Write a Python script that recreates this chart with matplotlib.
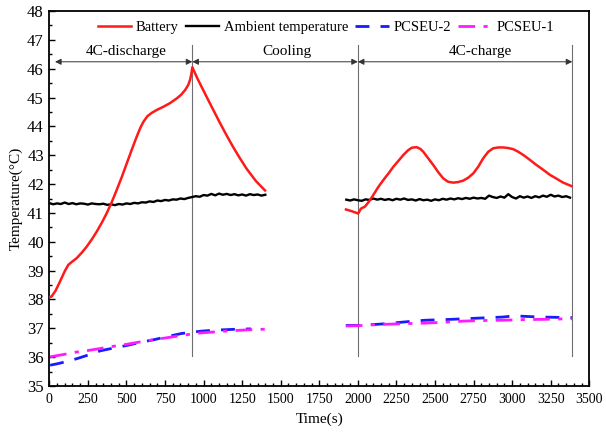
import numpy as np
import matplotlib.pyplot as plt
import matplotlib as mpl
from matplotlib.ticker import MultipleLocator

mpl.rcParams.update({"font.family": "Liberation Serif", "font.size": 10,
                     "xtick.direction": "in", "ytick.direction": "in"})

# battery surface temperature: discharge + cooling, then charge
bat1_t = [0, 14, 40, 69, 100, 123, 150, 177, 210, 242, 275, 307, 340, 372, 405, 437, 470, 502,
          535, 566, 590, 610, 635, 664, 700, 739, 780, 826, 855, 880, 900, 912, 920, 927,
          960, 1020, 1060, 1106, 1150, 1193, 1235, 1279, 1340, 1398]
bat1_v = [38.08, 38.10, 38.30, 38.62, 38.98, 39.20, 39.32, 39.43, 39.62, 39.83, 40.08, 40.35,
          40.66, 40.99, 41.38, 41.80, 42.25, 42.72, 43.20, 43.64, 43.95, 44.16, 44.35, 44.47,
          44.58, 44.68, 44.80, 44.97, 45.10, 45.26, 45.43, 45.61, 45.80, 46.05,
          45.66, 45.02, 44.60, 44.12, 43.68, 43.27, 42.90, 42.53, 42.10, 41.78]
bat2_t = [1923, 1960, 2002, 2020, 2046, 2070, 2100, 2130, 2165, 2200, 2230, 2265, 2295, 2325,
          2349, 2381, 2405, 2424, 2455, 2489, 2520, 2553, 2585, 2618, 2650, 2683, 2715, 2748,
          2780, 2812, 2845, 2877, 2910, 2942, 2975, 3007, 3040, 3072, 3115, 3158, 3200, 3245,
          3290, 3331, 3385]
bat2_v = [41.12, 41.06, 40.98, 41.15, 41.22, 41.38, 41.62, 41.88, 42.14, 42.38, 42.60, 42.82,
          43.01, 43.17, 43.26, 43.28, 43.22, 43.12, 42.90, 42.66, 42.42, 42.20, 42.08, 42.05,
          42.07, 42.12, 42.22, 42.37, 42.60, 42.89, 43.12, 43.24, 43.27, 43.27, 43.25, 43.21,
          43.12, 43.01, 42.84, 42.66, 42.50, 42.32, 42.18, 42.05, 41.93]

# ambient temperature, sampled every 25 s
amb1_t0 = 0
amb1_v = [41.34, 41.30, 41.33, 41.31, 41.36, 41.31, 41.34, 41.30, 41.33, 41.32, 41.29, 41.33,
          41.31, 41.30, 41.32, 41.28, 41.30, 41.27, 41.31, 41.29, 41.33, 41.31, 41.35, 41.33,
          41.37, 41.36, 41.40, 41.38, 41.43, 41.41, 41.45, 41.43, 41.47, 41.46, 41.50, 41.48,
          41.52, 41.55, 41.58, 41.56, 41.62, 41.60, 41.66, 41.61, 41.67, 41.63, 41.66, 41.62,
          41.65, 41.61, 41.64, 41.60, 41.65, 41.62, 41.64, 41.60, 41.63]
amb2_t0 = 1925
amb2_v = [41.46, 41.43, 41.47, 41.44, 41.42, 41.47, 41.45, 41.50, 41.46, 41.49, 41.45, 41.48,
          41.44, 41.49, 41.46, 41.50, 41.45, 41.47, 41.43, 41.48, 41.44, 41.46, 41.42, 41.47,
          41.44, 41.49, 41.46, 41.50, 41.47, 41.51, 41.48, 41.52, 41.49, 41.53, 41.50, 41.52,
          41.49, 41.60, 41.55, 41.52, 41.57, 41.53, 41.65, 41.55, 41.50, 41.58, 41.53, 41.57,
          41.52, 41.58, 41.54, 41.60, 41.56, 41.63, 41.57, 41.60, 41.55, 41.58, 41.53]

# PCSEU temperatures
p2a_t = [5, 60, 120, 180, 250, 331, 420, 506, 590, 682, 770, 857, 920, 982, 1060, 1133, 1220, 1308]
p2a_v = [35.72, 35.78, 35.86, 35.95, 36.07, 36.22, 36.32, 36.41, 36.51, 36.61, 36.72, 36.82,
         36.86, 36.90, 36.93, 36.95, 36.97, 36.98]
p1a_t = [5, 90, 180, 250, 331, 420, 506, 590, 682, 770, 857, 920, 982, 1060, 1133, 1260, 1403]
p1a_v = [36.01, 36.09, 36.18, 36.23, 36.30, 36.38, 36.45, 36.53, 36.61, 36.68, 36.75, 36.80,
         36.84, 36.87, 36.90, 36.94, 36.97]
p2b_t = [1922, 2000, 2100, 2185, 2300, 2436, 2560, 2687, 2810, 2937, 3012, 3100, 3188, 3290, 3388]
p2b_v = [37.10, 37.10, 37.13, 37.16, 37.22, 37.28, 37.30, 37.33, 37.36, 37.39, 37.43, 37.41,
         37.39, 37.38, 37.37]
p1b_t = [1922, 2000, 2100, 2185, 2300, 2436, 2560, 2687, 2810, 2937, 3060, 3188, 3290, 3388]
p1b_v = [37.08, 37.09, 37.12, 37.14, 37.16, 37.18, 37.21, 37.25, 37.27, 37.28, 37.30, 37.31,
         37.32, 37.33]

# stage boundaries (s) and labels
bounds = [37, 927, 2000, 3390]
stages = ["4C-discharge", "Cooling", "4C-charge"]
stage_x = [500, 1538, 2795]

RED, BLUE, MAG = "#ff1a1a", "#1a1aff", "#ff1aff"

fig = plt.figure(figsize=(6.06, 4.32), dpi=100)
ax = fig.add_axes([0.0814, 0.1065, 0.891, 0.868])

amb1_t = amb1_t0 + 25 * np.arange(len(amb1_v))
amb2_t = amb2_t0 + 25 * np.arange(len(amb2_v))

ax.plot(bat1_t, bat1_v, c=RED, lw=1.8, label="Battery", zorder=4)
ax.plot(bat2_t, bat2_v, c=RED, lw=1.8, zorder=4)
ax.plot(amb1_t, amb1_v, c="k", lw=1.7, label="Ambient temperature", zorder=3)
ax.plot(amb2_t, amb2_v, c="k", lw=1.7, zorder=3)
ax.plot(p2a_t, p2a_v, c=BLUE, lw=2, ls=(0, (5, 4)), label="PCSEU-2", zorder=3)
ax.plot(p2b_t, p2b_v, c=BLUE, lw=2, ls=(0, (5, 4)), zorder=3)
ax.plot(p1a_t, p1a_v, c=MAG, lw=2, ls=(0, (6, 3, 1.5, 3)), label="PCSEU-1", zorder=3)
ax.plot(p1b_t, p1b_v, c=MAG, lw=2, ls=(0, (6, 3, 1.5, 3)), zorder=3)

# stage markers: vertical separators, double arrows and labels
for xv in bounds[1:]:
    ax.plot([xv, xv], [36.03, 46.82], c="#6e6e6e", lw=0.8, zorder=2)
for (a, b), name, xt in zip(zip(bounds[:-1], bounds[1:]), stages, stage_x):
    ax.annotate("", xy=(b, 46.24), xytext=(a, 46.24),
                arrowprops=dict(arrowstyle="<|-|>", color="#333333", lw=0.7,
                                shrinkA=0, shrinkB=0, mutation_scale=9))
    ax.text(xt, 46.6, name, ha="center", va="center", fontsize=11)

ax.set_xlim(0, 3500)
ax.set_ylim(35, 48)
ax.xaxis.set_major_locator(MultipleLocator(250))
ax.xaxis.set_minor_locator(MultipleLocator(50))
ax.yaxis.set_major_locator(MultipleLocator(1))
ax.yaxis.set_minor_locator(MultipleLocator(0.5))
ax.tick_params(which="major", length=4, width=1)
ax.tick_params(which="minor", length=2.5, width=1)
ax.tick_params(axis="x", labelsize=10, pad=5)
ax.tick_params(axis="y", labelsize=12, pad=4)
for s in ax.spines.values():
    s.set_linewidth(1.3)
ax.set_xlabel("Time(s)", fontsize=11, labelpad=5)
ax.set_ylabel("Temperature(\u00b0C)", fontsize=11, labelpad=3)

ax.legend(loc="center", bbox_to_anchor=(0.512, 0.955), ncol=4, frameon=False,
          handlelength=2.3, handletextpad=0.3, columnspacing=0.5, fontsize=10.5,
          borderaxespad=0)

fig.savefig("out.png", dpi=100)
